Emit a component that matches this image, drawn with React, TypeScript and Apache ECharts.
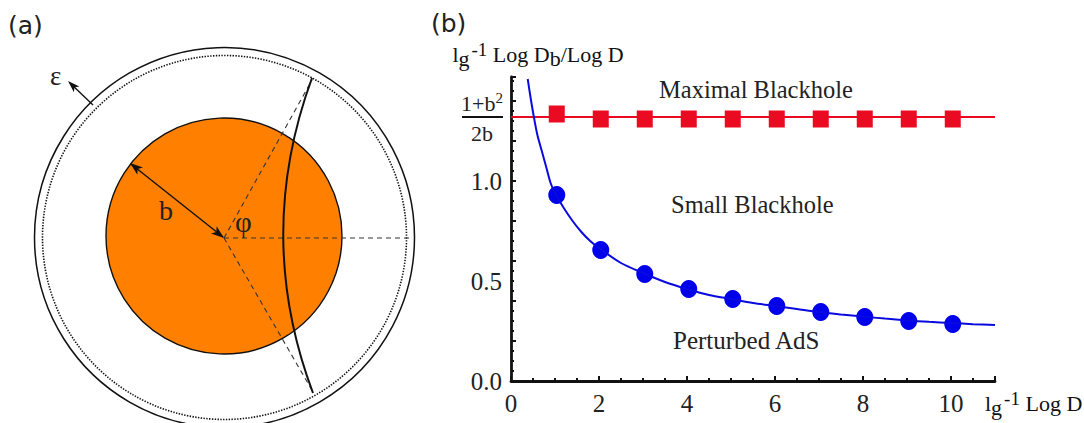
import React, { useEffect, useRef } from "react";
import * as echarts from "echarts";

const markerX = [1.04, 2.04, 3.04, 4.04, 5.04, 6.04, 7.04, 8.04, 9.04, 10.04];
const smallBlackhole = [0.93, 0.655, 0.535, 0.46, 0.41, 0.375, 0.345, 0.32, 0.30, 0.285];
const maximalBlackhole = [1.335, 1.31, 1.31, 1.31, 1.31, 1.31, 1.31, 1.31, 1.31, 1.31];
const curveX = [0.38, 0.45, 0.52, 0.6, 0.7, 0.8, 0.9, 1, 1.2, 1.4, 1.6, 1.8, 2, 2.5, 3, 3.5, 4, 4.5, 5, 5.5, 6, 6.5, 7, 7.5, 8, 8.5, 9, 9.5, 10, 10.5, 11];
const curveY = [1.51, 1.41, 1.32, 1.23, 1.15, 1.07, 0.99, 0.94, 0.865, 0.80, 0.745, 0.70, 0.665, 0.59, 0.54, 0.495, 0.46, 0.43, 0.41, 0.39, 0.375, 0.36, 0.345, 0.333, 0.322, 0.312, 0.303, 0.296, 0.29, 0.284, 0.28];
const levelX = [0, 11];
const levelY = [1.32, 1.32];
const yLabels = [0, 0.5, 1.0];
const xLabels = [0, 2, 4, 6, 8, 10];

const SERIF = "'Liberation Serif', serif";
const SANS = "'DejaVu Sans', sans-serif";
const INK = "#222";

function arrowHead(fromX: number, fromY: number, tipX: number, tipY: number, len: number, half: number) {
  const dx = tipX - fromX;
  const dy = tipY - fromY;
  const d = Math.hypot(dx, dy);
  const ux = dx / d;
  const uy = dy / d;
  return {
    type: "polygon",
    silent: true,
    shape: {
      points: [
        [tipX, tipY],
        [tipX - ux * len - uy * half, tipY - uy * len + ux * half],
        [tipX - ux * len * 0.75, tipY - uy * len * 0.75],
        [tipX - ux * len + uy * half, tipY - uy * len - ux * half],
      ],
    },
    style: { fill: "#111" },
  };
}

function line(x1: number, y1: number, x2: number, y2: number, style: any) {
  return { type: "line", silent: true, shape: { x1, y1, x2, y2 }, style };
}

function label(text: string, x: number, y: number, fontSize: number, fontFamily: string, extra: any = {}) {
  return {
    type: "text",
    silent: true,
    x,
    y,
    style: { text, fontSize, fontFamily, fill: INK, verticalAlign: "middle", ...extra },
  };
}

const dash = { stroke: "#333", lineWidth: 1.1, lineDash: [5, 4] };
const cx = 224;
const cy = 238;

const diagram = [
  { type: "circle", silent: true, shape: { cx: 224.5, cy: 237.5, r: 190 }, style: { fill: "none", stroke: "#111", lineWidth: 1.5 } },
  { type: "circle", silent: true, shape: { cx: 224.5, cy: 237.5, r: 182 }, style: { fill: "none", stroke: "#111", lineWidth: 1.6, lineDash: [1.4, 1.4] } },
  { type: "circle", silent: true, shape: { cx, cy: 236, r: 118 }, style: { fill: "#ff8000", stroke: "#111", lineWidth: 1.4 } },
  line(cx, cy, 312, 80, dash),
  line(cx, cy, 313, 392, dash),
  line(cx, cy, 413, cy, dash),
  { type: "bezierCurve", silent: true, shape: { x1: 312, y1: 78, x2: 313, y2: 393, cpx1: 254, cpy1: 236 }, style: { fill: "none", stroke: "#111", lineWidth: 2 } },
  line(131, 164, 223, 237, { stroke: "#111", lineWidth: 1.4 }),
  arrowHead(224, 238, 130, 163, 13, 4.5),
  arrowHead(130, 163, 224, 238, 13, 4.5),
  line(93, 105, 70, 83, { stroke: "#111", lineWidth: 1.4 }),
  arrowHead(93, 105, 68, 81, 12, 4),
  label("(a)", 8, 25, 25, SANS),
  label("(b)", 431, 23, 25, SANS),
  label("ε", 50, 76, 27, SERIF),
  label("b", 159, 210, 28, SERIF),
  label("φ", 235, 222, 29, SERIF),
];

const plotText = [
  label("Maximal Blackhole", 659, 89, 24.5, SERIF),
  label("Small Blackhole", 671, 204, 24.5, SERIF),
  label("Perturbed AdS", 673, 340, 25, SERIF),
  {
    type: "text",
    silent: true,
    x: 482,
    y: 103,
    style: {
      text: "1+b{s|2}",
      fontSize: 22,
      fontFamily: SERIF,
      fill: INK,
      align: "center",
      verticalAlign: "middle",
      rich: { s: { fontSize: 15, fontFamily: SERIF, fill: INK, verticalAlign: "top", lineHeight: 26 } },
    },
  },
  { type: "rect", silent: true, shape: { x: 462, y: 116, width: 41, height: 2 }, style: { fill: "#111" } },
  label("2b", 482, 133, 22, SERIF, { align: "center" }),
];

const nameRich = {
  t: { fontSize: 22, fontFamily: SERIF, fill: "#3a3530" },
  g: { fontSize: 22, fontFamily: SERIF, fill: "#3a3530", padding: [7, 0, 0, 0] },
  s: { fontSize: 19, fontFamily: SERIF, fill: "#3a3530", padding: [0, 0, 10, 2] },
};

export default function App() {
  const ref = useRef<HTMLDivElement>(null);
  useEffect(() => {
    document.body.style.margin = "0";
    const chart = echarts.init(ref.current!, null, { renderer: "svg" });
    chart.setOption({
      animation: false,
      backgroundColor: "#fff",
      grid: { left: 511, top: 77, width: 484, height: 304, containLabel: false, outerBoundsMode: "none" },
      xAxis: {
        type: "value",
        min: 0,
        max: 11,
        interval: 2,
        name: "{t|l}{g|g}{s|-1}{t| Log D}",
        nameLocation: "end",
        nameGap: -10,
        nameTextStyle: { align: "left", verticalAlign: "top", padding: [8, 0, 0, 0], rich: nameRich },
        axisLine: { onZero: false, lineStyle: { color: "#111", width: 2.8 } },
        axisTick: { inside: true, length: 5, lineStyle: { color: "#111", width: 2 } },
        minorTick: { show: true, splitNumber: 4, length: 3, lineStyle: { color: "#111", width: 2 } },
        axisLabel: { fontSize: 25, fontFamily: SERIF, color: INK, margin: 10, customValues: xLabels },
        splitLine: { show: false },
      },
      yAxis: {
        type: "value",
        min: 0,
        max: 1.52,
        interval: 0.2,
        name: "{t|l}{g|g}{s|-1}{t| Log D}{g|b}{t|/Log D}",
        nameLocation: "end",
        nameGap: 8,
        nameTextStyle: { align: "center", padding: [0, 0, 0, 54], rich: nameRich },
        axisLine: { onZero: false, lineStyle: { color: "#111", width: 2.8 } },
        axisTick: { inside: true, length: 5, lineStyle: { color: "#111", width: 2 } },
        minorTick: { show: true, splitNumber: 4, length: 3, lineStyle: { color: "#111", width: 2 } },
        axisLabel: {
          fontSize: 25,
          fontFamily: SERIF,
          color: INK,
          margin: 9,
          customValues: yLabels,
          formatter: (v: number) => v.toFixed(1),
        },
        splitLine: { show: false },
      },
      series: [
        {
          name: "Maximal level",
          type: "line",
          data: levelX.map((x, i) => [x, levelY[i]]),
          showSymbol: false,
          lineStyle: { color: "#ea0a22", width: 2 },
          silent: true,
        },
        {
          name: "Small curve",
          type: "line",
          data: curveX.map((x, i) => [x, curveY[i]]),
          showSymbol: false,
          smooth: 0.3,
          lineStyle: { color: "#0a0ae0", width: 2 },
          silent: true,
        },
        {
          name: "Maximal Blackhole",
          type: "scatter",
          symbol: "rect",
          symbolSize: [16, 17],
          data: markerX.map((x, i) => [x, maximalBlackhole[i]]),
          itemStyle: { color: "#ea0a22", opacity: 1 },
        },
        {
          name: "Small Blackhole",
          type: "scatter",
          symbol: "circle",
          symbolSize: [17, 18],
          data: markerX.map((x, i) => [x, smallBlackhole[i]]),
          itemStyle: { color: "#0000ea", opacity: 1 },
        },
      ],
      graphic: [...diagram, ...plotText],
    });
    return () => chart.dispose();
  }, []);
  return <div ref={ref} style={{ position: "absolute", left: 0, top: 0, width: 1084, height: 423 }} />;
}
